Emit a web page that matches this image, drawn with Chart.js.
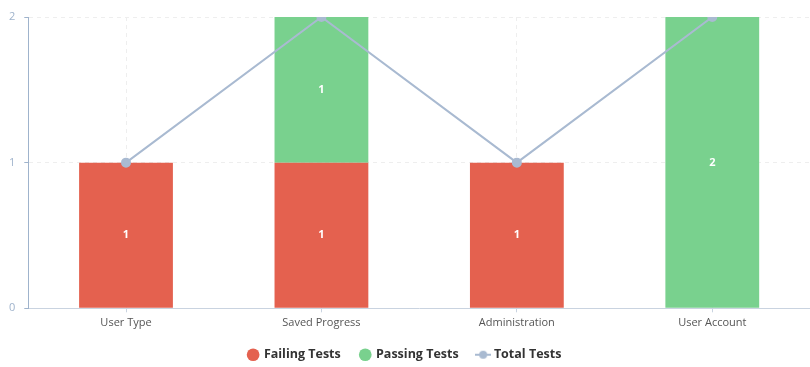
<!DOCTYPE html>
<html>
<head>
<meta charset="utf-8">
<script src="https://cdn.jsdelivr.net/npm/chart.js@4"></script>
<style>
  html, body { margin: 0; padding: 0; background: #fff; }
  #wrap { width: 810px; height: 367px; }
</style>
</head>
<body>
<div id="wrap"><canvas id="testChart"></canvas></div>
<script>
const categories = ['User Type', 'Saved Progress', 'Administration', 'User Account'];
const failingTests = [1, 1, 1, 0];
const passingTests = [0, 1, 0, 2];
const totalTests = [1, 2, 1, 2];
const yTicks = [0, 1, 2];

const RED = '#e4614f';
const GREEN = '#79d18e';
const LINE = '#a9bad1';

// legend box: a bit shorter, drawn slightly higher
const legendTweak = {
  id: 'legendTweak',
  beforeLayout(chart) {
    const lg = chart.legend;
    if (lg && !lg._patched) {
      lg._patched = true;
      const fit = lg.fit.bind(lg);
      lg.fit = function () { fit(); this.height -= 5; };
      const draw = lg.draw.bind(lg);
      lg.draw = function () {
        chart.ctx.save();
        chart.ctx.translate(0, -1);
        draw();
        chart.ctx.restore();
      };
    }
  }
};

// white value labels in the middle of each bar segment
const barLabels = {
  id: 'barLabels',
  afterDatasetsDraw(chart) {
    const ctx = chart.ctx;
    ctx.save();
    ctx.font = 'bold 11px "Open Sans", sans-serif';
    ctx.fillStyle = '#ffffff';
    ctx.textAlign = 'center';
    ctx.textBaseline = 'middle';
    chart.data.datasets.forEach((ds, i) => {
      if (ds.type === 'line') return;
      const meta = chart.getDatasetMeta(i);
      meta.data.forEach((bar, j) => {
        const v = ds.data[j];
        if (!v) return;
        ctx.fillText(String(v), bar.x, (bar.y + bar.base) / 2);
      });
    });
    ctx.restore();
  }
};

// legend marker for the line series: short line with a dot
function lineMarker() {
  const c = document.createElement('canvas');
  c.width = 16; c.height = 10;
  const g = c.getContext('2d');
  g.strokeStyle = LINE; g.lineWidth = 2;
  g.beginPath(); g.moveTo(0, 5); g.lineTo(16, 5); g.stroke();
  g.fillStyle = LINE;
  g.beginPath(); g.arc(8, 5, 4, 0, Math.PI * 2); g.fill();
  return c;
}
const lineIcon = lineMarker();

new Chart(document.getElementById('testChart'), {
  data: {
    labels: categories,
    datasets: [
      { type: 'bar', label: 'Failing Tests', data: failingTests, backgroundColor: RED, order: 1, pointStyle: 'circle' },
      { type: 'bar', label: 'Passing Tests', data: passingTests, backgroundColor: GREEN, order: 1, pointStyle: 'circle' },
      { type: 'line', label: 'Total Tests', data: totalTests, borderColor: LINE, backgroundColor: LINE,
        borderWidth: 2, pointRadius: 4, pointHoverRadius: 4, pointBackgroundColor: LINE, order: 0 }
    ]
  },
  options: {
    responsive: true,
    maintainAspectRatio: false,
    animation: false,
    datasets: { bar: { barPercentage: 0.48, categoryPercentage: 1 } },
    layout: { autoPadding: false, padding: { top: 17, right: 0, left: 0, bottom: 0 } },
    plugins: {
      tooltip: { enabled: false },
      legend: {
        position: 'bottom',
        labels: {
          usePointStyle: true,
          boxWidth: 9,
          boxHeight: 9,
          padding: 20,
          color: '#333333',
          font: { family: '"Open Sans", sans-serif', size: 12.5, weight: 'bold' },
          generateLabels(chart) {
            const items = Chart.defaults.plugins.legend.labels.generateLabels(chart);
            items.forEach(it => {
              if (it.datasetIndex === 2) { it.pointStyle = lineIcon; }
              it.lineWidth = 0;
            });
            return items.sort((a, b) => a.datasetIndex - b.datasetIndex);
          }
        }
      }
    },
    scales: {
      x: {
        stacked: true,
        grid: { offset: false, drawOnChartArea: true, color: '#eeeeee', tickLength: 4, tickColor: '#c9d3e0' },
        border: { color: '#c9d3e0', dash: [4, 4] },
        ticks: { color: '#555555', font: { family: '"Open Sans", sans-serif', size: 11 }, padding: 4 },
        afterFit(axis) { axis.height -= 4; }
      },
      y: {
        stacked: true,
        min: 0,
        max: 2,
        afterBuildTicks(axis) { axis.ticks = yTicks.map(v => ({ value: v })); },
        grid: { color: '#eeeeee', tickLength: 4, tickColor: '#9fb3cc' },
        border: { color: '#9fb3cc', dash: [4, 4] },
        ticks: { color: '#9fb3cc', font: { family: '"Open Sans", sans-serif', size: 11 }, padding: 9 }
      }
    }
  },
  plugins: [legendTweak, barLabels]
});
</script>
</body>
</html>
